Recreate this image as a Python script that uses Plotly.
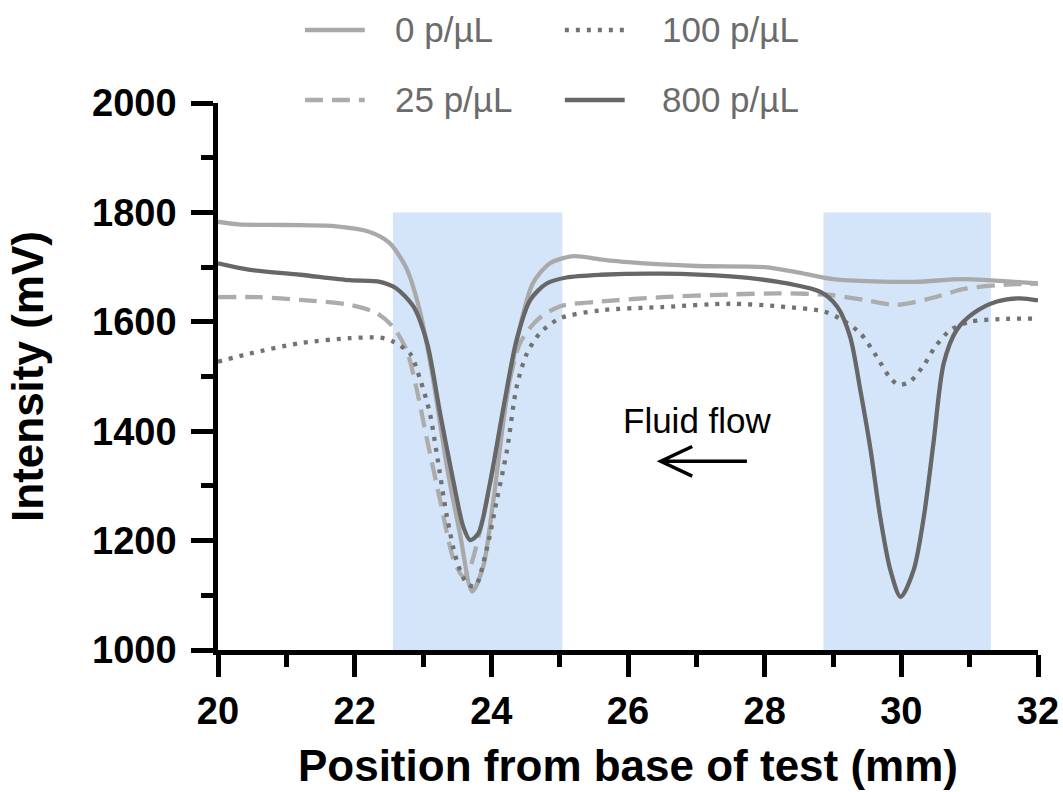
import plotly.graph_objects as go

# ---------------- data ----------------
x_0 = [20.0, 20.3, 21.0, 21.7, 22.2, 22.5, 22.75, 22.95, 23.15, 23.35, 23.54, 23.72,
       23.88, 24.03, 24.22, 24.42, 24.61, 24.86, 25.2, 25.6, 26.0, 27.0, 28.0, 28.5,
       29.0, 30.2, 30.9, 32.0]
y_0 = [1783, 1778, 1777, 1775, 1765, 1745, 1700, 1622, 1494, 1335, 1213, 1107,
       1152, 1274, 1457, 1591, 1671, 1707, 1720, 1714, 1709, 1702, 1700, 1690,
       1678, 1673, 1678, 1670]

x_25 = [20.0, 20.6, 21.2, 21.93, 22.32, 22.56, 22.76, 22.9, 23.06, 23.25, 23.45, 23.59,
        23.69, 23.88, 24.03, 24.23, 24.42, 24.67, 25.0, 25.6, 26.5, 27.5, 28.23, 28.96,
        29.45, 29.94, 30.43, 30.92, 31.4, 32.0]
y_25 = [1645, 1645, 1640, 1631, 1616, 1591, 1548, 1481, 1384, 1274, 1165, 1134,
        1152, 1244, 1335, 1470, 1561, 1603, 1628, 1637, 1645, 1650, 1652, 1649,
        1640, 1631, 1643, 1660, 1667, 1670]

x_100 = [20.0, 20.47, 21.2, 21.93, 22.37, 22.56, 22.81, 22.96, 23.1, 23.2, 23.35, 23.49,
         23.64, 23.76, 23.93, 24.08, 24.23, 24.37, 24.52, 24.71, 25.0, 25.6, 26.5, 27.5,
         28.23, 28.86, 29.1, 29.4, 29.64, 29.84, 29.96, 30.13, 30.33, 30.5, 30.72, 31.01,
         31.45, 31.96]
y_100 = [1527, 1542, 1561, 1570, 1571, 1564, 1542, 1494, 1433, 1360, 1244, 1165,
         1122, 1116, 1183, 1274, 1366, 1481, 1542, 1579, 1606, 1621, 1627, 1633,
         1628, 1619, 1606, 1579, 1536, 1497, 1485, 1491, 1521, 1555, 1585, 1600,
         1605, 1606]

x_800 = [20.0, 20.47, 21.2, 21.93, 22.37, 22.61, 22.86, 23.06, 23.25, 23.45, 23.59, 23.69,
         23.81, 23.98, 24.18, 24.37, 24.57, 24.81, 25.1, 25.6, 26.5, 27.5, 28.2, 28.81,
         29.06, 29.25, 29.4, 29.55, 29.69, 29.84, 29.99, 30.18, 30.33, 30.47, 30.62, 30.81,
         31.06, 31.4, 31.74, 32.0]
y_800 = [1707, 1695, 1686, 1676, 1673, 1661, 1628, 1561, 1433, 1305, 1225, 1201,
         1213, 1305, 1445, 1567, 1640, 1670, 1681, 1686, 1688, 1683, 1673, 1655,
         1628, 1573, 1475, 1366, 1244, 1146, 1097, 1146, 1244, 1378, 1524, 1585,
         1616, 1637, 1643, 1639]

series_names = ["0 p/µL", "25 p/µL", "100 p/µL", "800 p/µL"]
series_x = [x_0, x_25, x_100, x_800]
series_y = [y_0, y_25, y_100, y_800]

band_names = ["Control line", "Test line"]
band_start = [22.56, 28.86]
band_end = [25.04, 31.31]
band_top = 1800

x_ticks = [20, 22, 24, 26, 28, 30, 32]
y_ticks = [1000, 1200, 1400, 1600, 1800, 2000]

# ---------------- styles ----------------
colors = ["#a9a9a9", "#acacac", "#727272", "#676767"]
dashes = ["solid", "18px,9px", "4px,7px", "solid"]
FONT = "Liberation Sans, Arial, Helvetica, sans-serif"

fig = go.Figure()

for name, xs, ys, c, d in zip(series_names, series_x, series_y, colors, dashes):
    fig.add_trace(go.Scatter(
        x=xs, y=ys, name=name, mode="lines",
        line=dict(color=c, width=4.3, dash=d, shape="spline", smoothing=0.8),
        showlegend=False, hoverinfo="skip",
    ))

# shaded regions
for b0, b1 in zip(band_start, band_end):
    fig.add_shape(type="rect", xref="x", yref="y", x0=b0, x1=b1, y0=1000, y1=band_top,
                  fillcolor="#d4e5fa", line=dict(width=0), layer="below")

# band labels
for name, b0, b1 in zip(band_names, band_start, band_end):
    fig.add_annotation(x=(b0 + b1) / 2 - 0.02, y=841, xref="x", yref="y", text=name,
                       showarrow=False, font=dict(family=FONT, size=35, color="#000000"),
                       xanchor="center", yanchor="middle")

# fluid flow label + arrow
fig.add_annotation(x=27.02, y=1420, xref="x", yref="y", text="Fluid flow",
                   showarrow=False, font=dict(family=FONT, size=35, color="#000000"),
                   xanchor="center", yanchor="middle")
fig.add_shape(type="path", xref="x", yref="y",
              path="M 27.74,1345 L 26.50,1345 M 26.94,1372 L 26.48,1345 L 26.94,1318",
              line=dict(color="#000000", width=3.5))

# manual legend (two columns x two rows)
leg_rows = [1.1335, 1.0055]
leg_cols = [(0.106, 0.179, 0.2134), (0.423, 0.496, 0.539)]
leg_pos = [(0, 0), (1, 0), (0, 1), (1, 1)]  # (row, col) for each series
for name, c, d, (r, k) in zip(series_names, colors, dashes, leg_pos):
    x0, x1, xt = leg_cols[k]
    yy = leg_rows[r]
    fig.add_shape(type="line", xref="paper", yref="paper", x0=x0, x1=x1, y0=yy, y1=yy,
                  line=dict(color=c, width=4.5, dash=d))
    fig.add_annotation(x=xt, y=yy, xref="paper", yref="paper", text=name, showarrow=False,
                       xanchor="left", yanchor="middle",
                       font=dict(family=FONT, size=35, color="#6b6b6b"))

axis_common = dict(
    showline=True, linewidth=4.5, linecolor="#000000", mirror=False,
    ticks="outside", ticklen=22, tickwidth=4.5, tickcolor="#000000",
    showgrid=False, zeroline=False,
    tickfont=dict(family=FONT, size=38, color="#000000", weight="bold"),
)

fig.update_xaxes(
    range=[20, 32], tickvals=x_ticks, ticktext=[str(v) for v in x_ticks],
    minor=dict(dtick=1, tick0=20, ticks="outside", ticklen=12, tickwidth=4.5,
               tickcolor="#000000", showgrid=False),
    ticklabelstandoff=2,
    title=dict(text="Position from base of test (mm)", standoff=20,
               font=dict(family=FONT, size=44, color="#000000", weight="bold")),
    **axis_common,
)
fig.update_yaxes(
    range=[1000, 2000], tickvals=y_ticks, ticktext=[str(v) for v in y_ticks],
    minor=dict(dtick=100, tick0=1000, ticks="outside", ticklen=12, tickwidth=4.5,
               tickcolor="#000000", showgrid=False),
    ticklabelstandoff=7,
    title=dict(text="Intensity (mV)", standoff=36,
               font=dict(family=FONT, size=44, color="#000000", weight="bold")),
    **axis_common,
)

fig.update_layout(
    width=1063, height=792,
    margin=dict(l=218, r=25, t=103, b=142, autoexpand=False),
    plot_bgcolor="#ffffff", paper_bgcolor="#ffffff",
    showlegend=False,
)

fig.write_html("out.html")
